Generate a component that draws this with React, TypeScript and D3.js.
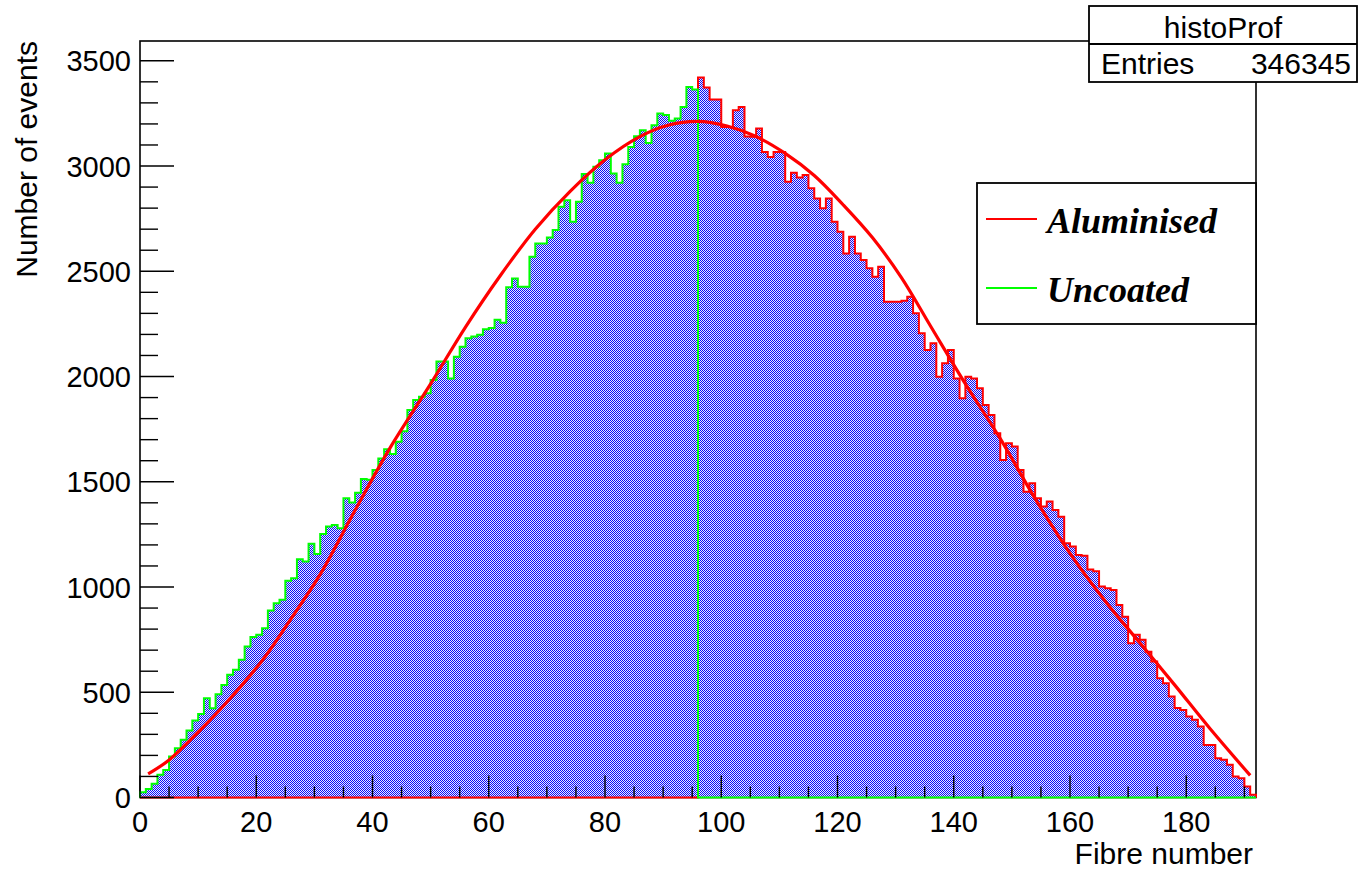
import React from 'react';
import * as d3 from 'd3';

// Uncoated fibres: bins 0..95 (bins 96..191 are empty)
const uncoated = [
  25, 40, 65, 108, 131, 195, 234, 274, 318, 366,
  397, 472, 424, 491, 535, 583, 607, 654, 717, 762,
  773, 804, 888, 923, 939, 1030, 1042, 1132, 1121, 1205,
  1157, 1252, 1287, 1295, 1279, 1422, 1401, 1448, 1513, 1509,
  1556, 1610, 1654, 1632, 1690, 1740, 1841, 1888, 1904, 1920,
  1983, 2071, 2071, 1991, 2094, 2142, 2182, 2190, 2198, 2225,
  2230, 2270, 2256, 2424, 2466, 2427, 2427, 2569, 2632, 2632,
  2661, 2696, 2806, 2838, 2735, 2830, 2962, 2920, 2996, 3028,
  3060, 2965, 2920, 3009, 3091, 3142, 3170, 3110, 3194, 3250,
  3242, 3215, 3226, 3281, 3376, 3364,
];

// Aluminised fibres: bins 96..191 (bins 0..95 are empty)
const aluminised = [
  3421, 3373, 3316, 3316, 3185, 3185, 3265, 3280, 3140, 3139,
  3178, 3067, 3043, 3067, 3067, 2925, 2968, 2946, 2957, 2894,
  2846, 2799, 2846, 2735, 2688, 2585, 2664, 2585, 2553, 2514,
  2474, 2521, 2355, 2355, 2355, 2360, 2379, 2300, 2205, 2126,
  2158, 1999, 2063, 2126, 1991, 1897, 1999, 1991, 1944, 1865,
  1817, 1730, 1603, 1683, 1667, 1556, 1453, 1493, 1422, 1383,
  1406, 1366, 1334, 1208, 1192, 1152, 1148, 1083, 1075, 1002,
  994, 986, 915, 859, 733, 773, 749, 693, 646, 567,
  543, 480, 425, 416, 385, 369, 337, 250, 250, 187,
  179, 155, 100, 92, 52, 13,
];

// Fit curve samples (fibre number, events)
const fitX = [1.4, 5, 10, 15, 21, 26, 31, 37, 43, 50, 56, 62, 68, 74, 80, 86, 91, 96,
  101, 106, 111, 116, 121, 126, 131, 136, 142, 148, 154, 160, 166, 172, 178, 184, 191];
const fitY = [112, 178, 310, 455, 650, 850, 1060, 1365, 1660, 1965, 2235, 2480, 2700, 2880, 3030, 3140, 3195, 3212,
  3190, 3140, 3060, 2955, 2815, 2660, 2470, 2240, 1965, 1705, 1420, 1160, 935, 735, 535, 330, 105];

const xTickLabels = [0, 20, 40, 60, 80, 100, 120, 140, 160, 180];
const yTickLabels = [0, 500, 1000, 1500, 2000, 2500, 3000, 3500];
const xTitle = 'Fibre number';
const yTitle = 'Number of events';
const statsName = 'histoProf';
const statsEntries = '346345';
const legendLabels = ['Aluminised', 'Uncoated'];

const NBINS = 192;
const SANS = '"Liberation Sans", Arial, Helvetica, sans-serif';
const SERIF = '"Liberation Serif", "Times New Roman", serif';

export default function App() {
  const x = d3.scaleLinear().domain([0, NBINS]).range([140, 1256]);
  const y = d3.scaleLinear().domain([0, 3594]).range([797.5, 41]);

  const greenVals = [...uncoated, ...new Array(NBINS - uncoated.length).fill(0)];
  const redVals = [...new Array(NBINS - aluminised.length).fill(0), ...aluminised];

  const stepPath = (vals: number[]) => {
    let p = `M${x(0)},${y(0)}`;
    vals.forEach((v, i) => {
      p += `L${x(i)},${y(v)}L${x(i + 1)},${y(v)}`;
    });
    p += `L${x(NBINS)},${y(0)}`;
    return p;
  };

  const fitLine = d3
    .line<number>()
    .x((d, i) => x(fitX[i]))
    .y((d) => y(d))
    .curve(d3.curveCatmullRom.alpha(0.5));

  const xMinor = d3.range(0, NBINS, 5);
  const yMinor = d3.range(0, 3594, 100);

  return (
    <svg width={1360} height={869} style={{ position: 'absolute', left: 0, top: 0, background: '#fff' }}>
      <defs>
        <pattern id="hatch" width={2} height={2} patternUnits="userSpaceOnUse">
          <rect x={0} y={0} width={2} height={2} fill="#ececff" />
          <rect x={0} y={0} width={1} height={1} fill="#0a0afa" />
          <rect x={1} y={1} width={1} height={1} fill="#0a0afa" />
        </pattern>
      </defs>
      <rect x={0} y={0} width={1360} height={869} fill="#fff" />

      {/* frame */}
      <rect x={x(0)} y={y.range()[1]} width={x(NBINS) - x(0)} height={y(0) - y.range()[1]}
        fill="none" stroke="#000" strokeWidth={1.6} />

      {/* histogram fills */}
      <path d={stepPath(greenVals)} fill="url(#hatch)" stroke="none" />
      <path d={stepPath(redVals)} fill="url(#hatch)" stroke="none" />

      {/* outlines */}
      <path d={stepPath(redVals)} fill="none" stroke="#ff0000" strokeWidth={2} />
      <path d={stepPath(greenVals)} fill="none" stroke="#00ff00" strokeWidth={2} />

      {/* fit */}
      <path d={fitLine(fitY) || ''} fill="none" stroke="#ff0000" strokeWidth={3.2} strokeLinejoin="round" />

      {/* x ticks */}
      {xMinor.map((v) => {
        const major = v % 20 === 0;
        return (
          <line key={'xt' + v} x1={x(v)} x2={x(v)} y1={y(0)} y2={y(0) - (major ? 22 : 11)}
            stroke="#000" strokeWidth={1.4} />
        );
      })}
      {/* y ticks */}
      {yMinor.map((v) => {
        const major = v % 500 === 0;
        return (
          <line key={'yt' + v} x1={x(0)} x2={x(0) + (major ? 34 : 18)} y1={y(v)} y2={y(v)}
            stroke="#000" strokeWidth={1.4} />
        );
      })}

      {/* tick labels */}
      {xTickLabels.map((v) => (
        <text key={'xl' + v} x={x(v)} y={832} fontFamily={SANS} fontSize={29} textAnchor="middle" fill="#000">
          {v}
        </text>
      ))}
      {yTickLabels.map((v) => (
        <text key={'yl' + v} x={131} y={y(v) + 10.5} fontFamily={SANS} fontSize={29} textAnchor="end" fill="#000">
          {v}
        </text>
      ))}

      {/* axis titles */}
      <text x={1253} y={864} fontFamily={SANS} fontSize={30} textAnchor="end" fill="#000">{xTitle}</text>
      <text transform={`translate(37,41) rotate(-90)`} fontFamily={SANS} fontSize={30} textAnchor="end" fill="#000">
        {yTitle}
      </text>

      {/* stats box */}
      <rect x={1089} y={6} width={268} height={76} fill="#fff" stroke="#000" strokeWidth={1.8} />
      <line x1={1089} x2={1357} y1={44} y2={44} stroke="#000" strokeWidth={1.8} />
      <text x={1223} y={38} fontFamily={SANS} fontSize={30} textAnchor="middle" fill="#000">{statsName}</text>
      <text x={1101} y={74} fontFamily={SANS} fontSize={30} fill="#000">Entries</text>
      <text x={1351} y={74} fontFamily={SANS} fontSize={30} textAnchor="end" fill="#000">{statsEntries}</text>

      {/* legend */}
      <rect x={977} y={183} width={279} height={141} fill="#fff" stroke="#000" strokeWidth={1.8} />
      <line x1={986} x2={1037} y1={219} y2={219} stroke="#ff0000" strokeWidth={2} />
      <text x={1047} y={233} fontFamily={SERIF} fontSize={36} fontWeight="bold" fontStyle="italic" fill="#000">
        {legendLabels[0]}
      </text>
      <line x1={986} x2={1037} y1={288} y2={288} stroke="#00ff00" strokeWidth={2} />
      <text x={1047} y={301.5} fontFamily={SERIF} fontSize={36} fontWeight="bold" fontStyle="italic" fill="#000">
        {legendLabels[1]}
      </text>
    </svg>
  );
}
